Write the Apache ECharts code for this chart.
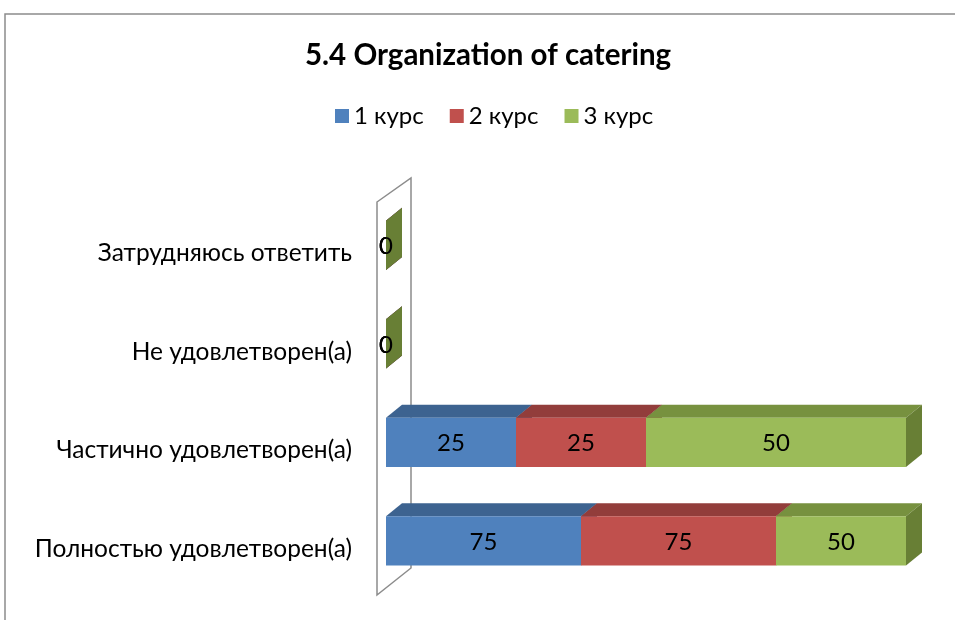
<!DOCTYPE html>
<html>
<head>
<meta charset="utf-8">
<script src="https://cdn.jsdelivr.net/npm/echarts@6/dist/echarts.min.js"></script>
<style>
html, body { margin: 0; padding: 0; background: #fff; }
#charts { width: 955px; height: 620px; }
</style>
</head>
<body>
<div id="charts"></div>
<script>
// data (Excel order: first category at the bottom)
var categories = ['Полностью удовлетворен(а)', 'Частично удовлетворен(а)', 'Не удовлетворен(а)', 'Затрудняюсь ответить'];
var kurs1 = [75, 25, 0, 0];
var kurs2 = [75, 25, 0, 0];
var kurs3 = [50, 50, 0, 0];
var seriesNames = ['1 курс', '2 курс', '3 курс'];

var allSeries = [kurs1, kurs2, kurs3];
var totals = categories.map(function (c, i) { return kurs1[i] + kurs2[i] + kurs3[i]; });

var palette = [
  { front: '#4F81BD', top: '#3D6390', side: '#345580' },
  { front: '#C0504D', top: '#923D3B', side: '#7f3533' },
  { front: '#9BBB59', top: '#77913F', side: '#687F35' }
];

var FONT = 'Lato, "Open Sans", sans-serif';

// 100% stacked: [start %, end %, category index, raw value]
function buildData(k) {
  return categories.map(function (c, i) {
    var before = 0;
    for (var j = 0; j < k; j++) before += allSeries[j][i];
    var t = totals[i] || 1;
    return [before / t * 100, (before + allSeries[k][i]) / t * 100, i, allSeries[k][i]];
  });
}

function makeRender(col) {
  return function (params, api) {
    var start = api.coord([api.value(0), api.value(2)]);
    var end = api.coord([api.value(1), api.value(2)]);
    var band = api.size([0, 1])[1];
    var h = band * 0.5;
    var top = start[1] - band * 0.33;
    var x0 = start[0], x1 = end[0];
    var dx = 16, dy = 13;
    var kids = [];
    if (x1 - x0 > 0.5) {
      kids.push({ type: 'polygon', shape: { points: [[x0, top], [x0 + dx, top - dy], [x1 + dx, top - dy], [x1, top]] }, style: { fill: col.top } });
      kids.push({ type: 'rect', shape: { x: x0, y: top, width: x1 - x0, height: h }, style: { fill: col.front } });
    }
    kids.push({ type: 'polygon', shape: { points: [[x1, top], [x1 + dx, top - dy], [x1 + dx, top + h - dy], [x1, top + h]] }, style: { fill: col.side } });
    kids.push({
      type: 'text',
      style: { text: String(api.value(3)), x: (x0 + x1) / 2, y: top + h / 2 + 1, align: 'center', verticalAlign: 'middle', font: '24px ' + FONT, fill: '#000' }
    });
    return { type: 'group', children: kids };
  };
}

var chartDom = document.getElementById('charts');
var myChart = echarts.init(chartDom);
var option;

option = {
  animation: false,
  backgroundColor: '#fff',
  title: {
    text: '5.4 Organization of catering',
    left: 300,
    top: 35,
    textStyle: { fontFamily: FONT, fontSize: 29.5, fontWeight: 'bold', color: '#000' }
  },
  legend: {
    left: 330,
    top: 99,
    icon: 'rect',
    itemWidth: 14,
    itemHeight: 14,
    itemGap: 26,
    textStyle: { fontFamily: FONT, fontSize: 24, color: '#000' },
    data: seriesNames
  },
  graphic: [
    { type: 'rect', z: -10, shape: { x: 5, y: 14, width: 1000, height: 700 }, style: { fill: 'none', stroke: '#8c8c8c', lineWidth: 1.5 } },
    { type: 'polygon', z: -5, shape: { points: [[377, 202], [411, 178], [411, 568], [377, 595]] }, style: { fill: '#fff', stroke: '#8c8c8c', lineWidth: 1.5 } }
  ],
  grid: { left: 386, right: 49, top: 204, bottom: 22 },
  xAxis: { type: 'value', min: 0, max: 100, show: false },
  yAxis: {
    type: 'category',
    data: categories,
    axisLine: { show: false },
    axisTick: { show: false },
    splitLine: { show: false },
    axisLabel: { margin: 34, fontFamily: FONT, fontSize: 24.5, color: '#000' }
  },
  series: seriesNames.map(function (name, k) {
    return {
      name: name,
      type: 'custom',
      renderItem: makeRender(palette[k]),
      itemStyle: { color: palette[k].front },
      encode: { x: [0, 1], y: 2 },
      data: buildData(k),
      z: 2 + k
    };
  })
};

option && myChart.setOption(option);
</script>
</body>
</html>
